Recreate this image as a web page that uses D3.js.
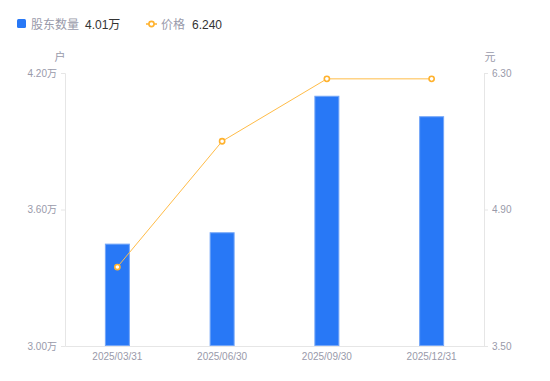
<!DOCTYPE html>
<html><head><meta charset="utf-8">
<script src="https://cdn.jsdelivr.net/npm/d3@7"></script>
<style>body{margin:0;background:#fff;font-family:"Liberation Sans","Noto Sans CJK SC",sans-serif;}</style>
</head><body><svg id="c" width="550" height="381"></svg>
<script>
const categories = ["2025/03/31","2025/06/30","2025/09/30","2025/12/31"];
const holders = [3.45, 3.50, 4.10, 4.01];
const prices = [4.31, 5.60, 6.24, 6.24];
const leftTicks = [3.00, 3.60, 4.20];
const rightTicks = [3.50, 4.90, 6.30];

const svg = d3.select("#c");
const m = {l:65, r:484, t:73, b:346};
const x = d3.scaleBand().domain(categories).range([m.l, m.r]);
const yL = d3.scaleLinear().domain([3.0, 4.2]).range([m.b, m.t]);
const yR = d3.scaleLinear().domain([3.5, 6.3]).range([m.b, m.t]);
const font = '"Liberation Sans","Noto Sans CJK SC",sans-serif';

const la = svg.append("g").attr("transform",`translate(${m.l},0)`)
  .call(d3.axisLeft(yL).tickValues(leftTicks).tickSize(4).tickPadding(4).tickFormat(d=>d3.format(".2f")(d)+"万"));
la.select(".domain").attr("stroke","#e6e6e6");
la.selectAll(".tick line").attr("stroke","#e6e6e6");
la.selectAll("text").attr("fill","#999aaa").style("font-size","10px").style("font-family",font);

const ra = svg.append("g").attr("transform",`translate(${m.r},0)`)
  .call(d3.axisRight(yR).tickValues(rightTicks).tickSize(4).tickPadding(4).tickFormat(d3.format(".2f")));
ra.select(".domain").attr("stroke","#e6e6e6");
ra.selectAll(".tick line").attr("stroke","#e6e6e6");
ra.selectAll("text").attr("fill","#999aaa").style("font-size","10px").style("font-family",font);

const ba = svg.append("g").attr("transform",`translate(0,${m.b})`)
  .call(d3.axisBottom(x).tickSize(0).tickPadding(7));
ba.select(".domain").attr("stroke","#e6e6e6");
ba.selectAll("text").attr("fill","#999aaa").style("font-size","10px").style("font-family",font);

svg.append("text").attr("x",60).attr("y",61).attr("text-anchor","middle").attr("fill","#999aaa").style("font-size","11px").style("font-family",font).text("户");
svg.append("text").attr("x",490).attr("y",61).attr("text-anchor","middle").attr("fill","#999aaa").style("font-size","11px").style("font-family",font).text("元");

const bw = 25;
svg.append("g").selectAll("rect").data(holders).join("rect")
  .attr("x",(d,i)=>x(categories[i])+x.bandwidth()/2-bw/2+0.5)
  .attr("y",d=>yL(d)+0.5)
  .attr("width",bw-1).attr("height",d=>m.b-yL(d)-1)
  .attr("fill","#2878f6").attr("stroke","#74a6f8").attr("stroke-width",1);

const line = d3.line().x((d,i)=>x(categories[i])+x.bandwidth()/2).y(d=>yR(d));
svg.append("path").datum(prices).attr("d",line).attr("fill","none").attr("stroke","#ffbc47").attr("stroke-width",1);
svg.append("g").selectAll("circle").data(prices).join("circle")
  .attr("cx",(d,i)=>x(categories[i])+x.bandwidth()/2).attr("cy",d=>yR(d)).attr("r",2.6)
  .attr("fill","#fff").attr("stroke","#ffb22e").attr("stroke-width",1.6);

const lg = svg.append("g").style("font-size","12px").style("font-family",font);
lg.append("rect").attr("x",17).attr("y",19).attr("width",9).attr("height",9).attr("rx",1.5).attr("fill","#2878f6");
lg.append("text").attr("x",31).attr("y",28.5).attr("fill","#999aaa").text("股东数量");
lg.append("text").attr("x",85).attr("y",28.5).attr("fill","#333").text("4.01万");
lg.append("line").attr("x1",146).attr("x2",157).attr("y1",24).attr("y2",24).attr("stroke","#ffb22e").attr("stroke-width",1.5);
lg.append("circle").attr("cx",151.5).attr("cy",24).attr("r",2.6).attr("fill","#fff").attr("stroke","#ffb22e").attr("stroke-width",1.6);
lg.append("text").attr("x",161).attr("y",28.5).attr("fill","#999aaa").text("价格");
lg.append("text").attr("x",192).attr("y",28.5).attr("fill","#333").text("6.240");
</script></body></html>
